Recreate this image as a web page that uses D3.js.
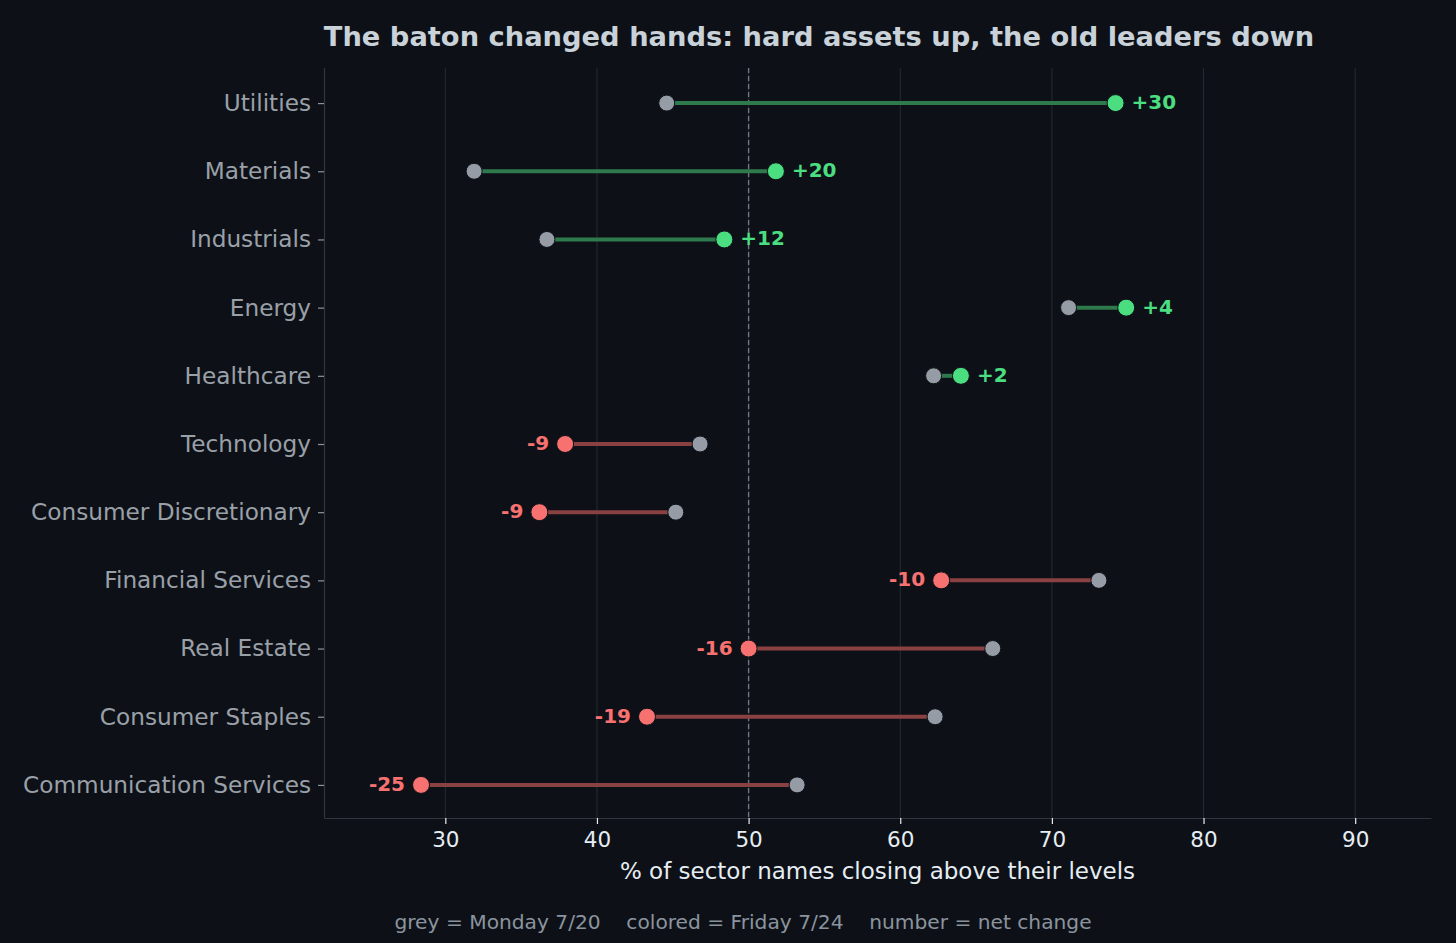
<!DOCTYPE html>
<html><head><meta charset="utf-8">
<script src="https://cdn.jsdelivr.net/npm/d3@7"></script>
<style>
html,body{margin:0;padding:0;background:#0d1117;}
svg{display:block;font-family:"DejaVu Sans",sans-serif;}
</style></head>
<body>
<script>
const sectors = ["Utilities","Materials","Industrials","Energy","Healthcare","Technology","Consumer Discretionary","Financial Services","Real Estate","Consumer Staples","Communication Services"];
const monday = [44.6, 31.9, 36.7, 71.1, 62.2, 46.8, 45.2, 73.1, 66.1, 62.3, 53.2];
const friday = [74.2, 51.8, 48.4, 74.9, 64.0, 37.9, 36.2, 62.7, 50.0, 43.3, 28.4];
const netChange = [30, 20, 12, 4, 2, -9, -9, -10, -16, -19, -25];
const xTicks = [30, 40, 50, 60, 70, 80, 90];

const W = 1456, H = 943;
const m = {left: 324, right: 1431, top: 68, bottom: 818};
const svg = d3.select("body").append("svg").attr("width", W).attr("height", H);
svg.append("rect").attr("width", W).attr("height", H).attr("fill", "#0d1117");

const x = d3.scaleLinear().domain([22, 95]).range([m.left, m.right]);
const y = d3.scalePoint().domain(sectors).range([m.top + 1, m.bottom + 1]).padding(0.5);

const data = sectors.map((s, i) => ({s, mon: monday[i], fri: friday[i], d: netChange[i]}));

// grid
svg.append("g").selectAll("line").data(xTicks).join("line")
  .attr("x1", d => x(d)).attr("x2", d => x(d))
  .attr("y1", m.top).attr("y2", m.bottom)
  .attr("stroke", "#262b33").attr("stroke-width", 1);

// reference line at 50
svg.append("line").attr("x1", x(50)).attr("x2", x(50)).attr("y1", m.top).attr("y2", m.bottom)
  .attr("stroke", "#6e7681").attr("stroke-width", 1.4).attr("stroke-dasharray", "5,3");

// axes
const xAxis = svg.append("g").attr("transform", `translate(0,${m.bottom})`)
  .call(d3.axisBottom(x).tickValues(xTicks).tickSize(6).tickPadding(8).tickSizeOuter(0));
xAxis.select(".domain").attr("stroke", "#30363d").attr("stroke-width", 1.2);
xAxis.selectAll(".tick line").attr("stroke", "#e6edf3").attr("stroke-width", 1.2);
xAxis.selectAll(".tick text").attr("fill", "#e6edf3").attr("font-size", 21.5).attr("font-family", "DejaVu Sans");

const yAxis = svg.append("g").attr("transform", `translate(${m.left},0)`)
  .call(d3.axisLeft(y).tickSize(6).tickPadding(7).tickSizeOuter(0));
yAxis.select(".domain").attr("d", `M0.5,${m.top}V${m.bottom}`).attr("stroke", "#30363d").attr("stroke-width", 1.2);
yAxis.selectAll(".tick line").attr("stroke", "#8b949e").attr("stroke-width", 1.2);
yAxis.selectAll(".tick text").attr("fill", "#9aa0a8").attr("font-size", 23.2).attr("font-family", "DejaVu Sans");

// connectors
svg.append("g").selectAll("line").data(data).join("line")
  .attr("x1", d => x(d.mon)).attr("x2", d => x(d.fri))
  .attr("y1", d => y(d.s)).attr("y2", d => y(d.s))
  .attr("stroke", d => d.d >= 0 ? "#2e7a4c" : "#8a4142").attr("stroke-width", 4);

// grey dots
svg.append("g").selectAll("circle").data(data).join("circle")
  .attr("cx", d => x(d.mon)).attr("cy", d => y(d.s)).attr("r", 8)
  .attr("fill", "#959ca6").attr("stroke", "#0d1117").attr("stroke-width", 1);

// colored dots
svg.append("g").selectAll("circle").data(data).join("circle")
  .attr("cx", d => x(d.fri)).attr("cy", d => y(d.s)).attr("r", 8.5)
  .attr("fill", d => d.d >= 0 ? "#4ade80" : "#f87171").attr("stroke", "#0d1117").attr("stroke-width", 1);

// labels
svg.append("g").selectAll("text").data(data).join("text")
  .attr("x", d => x(d.fri) + (d.d >= 0 ? 16 : -16))
  .attr("y", d => y(d.s) - 1)
  .attr("text-anchor", d => d.d >= 0 ? "start" : "end")
  .attr("dominant-baseline", "central")
  .attr("font-size", 20).attr("font-weight", "bold")
  .attr("fill", d => d.d >= 0 ? "#4ade80" : "#f87171")
  .text(d => (d.d > 0 ? "+" : "") + d.d);

// title
svg.append("text").attr("x", 819).attr("y", 46).attr("text-anchor", "middle")
  .attr("font-size", 27.3).attr("font-weight", "bold").attr("fill", "#c9d1d9")
  .text("The baton changed hands: hard assets up, the old leaders down");

// x label
svg.append("text").attr("x", (m.left + m.right) / 2).attr("y", 879).attr("text-anchor", "middle")
  .attr("font-size", 23).attr("fill", "#e6edf3")
  .text("% of sector names closing above their levels");

// footer
svg.append("text").attr("x", 743).attr("y", 929).attr("text-anchor", "middle")
  .attr("font-size", 20.2).attr("fill", "#8b949e").attr("xml:space", "preserve")
  .text("grey = Monday 7/20    colored = Friday 7/24    number = net change");
</script>
</body></html>
